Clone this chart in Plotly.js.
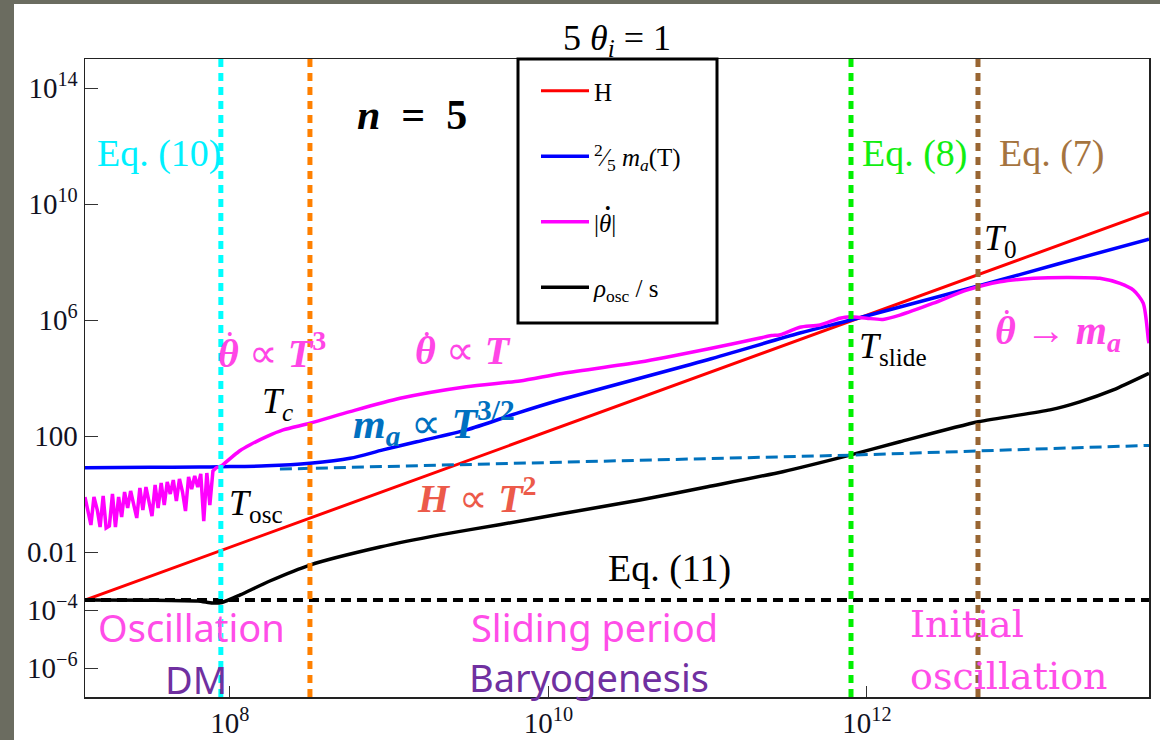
<!DOCTYPE html>
<html>
<head>
<meta charset="utf-8">
<script src="https://cdn.plot.ly/plotly-3.0.1.min.js"></script>
<style>
  html, body { margin: 0; padding: 0; background: #6b6c60; width: 1160px; height: 740px; overflow: hidden; }
  #plot { position: absolute; left: 14px; top: 4px; width: 1146px; height: 736px; background: #fff; }
</style>
</head>
<body>
<div id="plot"></div>
<script>
  // values (T in GeV)
  var hT = [1.23e7, 1e8, 1e9, 1e10, 1e11, 1e12, 1e13, 5.9e13];
  var hVal = [2.2e-4, 1.47e-2, 1.47, 147, 1.47e4, 1.47e6, 1.47e8, 5.1e9];

  var maT = [1.23e7, 3.16e7, 6.49e7, 8.77e7, 1.70e8, 3.18e8, 5.68e8, 9.14e8, 1.49e9, 3.06e9,
             6.31e9, 1.18e10, 1e11, 3.79e11, 7.94e11, 1.61e12, 4.98e12, 1.58e13, 5.9e13];
  var maVal = [8.1, 8.3, 8.5, 8.7, 9.33, 11.5, 17.0, 33.1, 63.1, 162,
               603, 1740, 4.27e4, 3.55e5, 1.0e6, 2.82e6, 1.48e7, 8.51e7, 6.17e8];

  // |theta dot| : oscillating part before T_osc
  var noiseT = [1.23e7, 1.29e7, 1.34e7, 1.40e7, 1.47e7, 1.53e7, 1.60e7, 1.67e7, 1.75e7, 1.83e7, 1.91e7,
                2.00e7, 2.09e7, 2.18e7, 2.28e7, 2.38e7, 2.49e7, 2.60e7, 2.72e7, 2.84e7, 2.97e7, 3.10e7,
                3.24e7, 3.39e7, 3.54e7, 3.70e7, 3.87e7, 4.04e7, 4.22e7, 4.41e7, 4.61e7, 4.82e7, 5.04e7,
                5.26e7, 5.50e7, 5.75e7, 6.01e7, 6.28e7, 6.56e7, 6.85e7, 7.16e7, 7.48e7, 7.82e7, 8.17e7, 8.91e7];
  var noiseVal = [0.788, 0.239, 0.0853, 0.788, 0.281, 0.0728, 0.853, 0.0673, 0.0789, 1.0, 0.0728,
                  0.788, 0.161, 1.17, 0.329, 1.27, 0.418, 0.149, 1.61, 0.281, 1.74, 0.621,
                  0.174, 2.04, 0.329, 2.39, 0.418, 2.59, 1.0, 3.04, 0.574, 3.29, 1.17,
                  0.259, 3.85, 1.49, 4.18, 1.74, 4.90, 0.117, 5.30, 0.418, 6.21, 7.88, 9.55];
  // |theta dot| : sliding and initial oscillation
  var magT = [8.91e7, 1.16e8, 1.34e8, 1.70e8, 2.16e8, 3.18e8, 5.68e8, 1.17e9, 3.06e9, 6.62e9,
              1.18e10, 3.76e10, 1e11, 2.13e11, 2.51e11, 2.82e11, 3.16e11, 3.79e11, 5.07e11, 6.76e11,
              7.82e11, 9.95e11, 1.26e12, 1.61e12, 2.61e12, 4.23e12, 6.84e12, 1.11e13, 1.79e13, 2.90e13,
              3.88e13, 4.71e13, 5.43e13, 5.85e13, 5.90e13];
  var magVal = [9.55, 31.6, 50.1, 95.5, 162, 275, 692, 2000, 5010, 7940,
                1.41e4, 3.55e4, 1.0e5, 2.40e5, 2.90e5, 3.05e5, 3.80e5, 5.60e5, 6.76e5, 1.15e6,
                1.29e6, 1.15e6, 1.05e6, 1.48e6, 3.80e6, 1.07e7, 2.09e7, 2.75e7, 2.95e7, 2.75e7,
                1.82e7, 1.07e7, 3.80e6, 2.04e5, 1.58e5];

  var rhoT = [1.23e7, 3.16e7, 6.31e7, 7.76e7, 8.91e7, 1.16e8, 1.78e8, 3.18e8, 8.75e8, 2.08e9, 5.01e9,
              1.18e10, 3.76e10, 1e11, 2.96e11, 7.82e11, 1.61e12, 5.0e12, 1.41e13, 2.17e13, 3.52e13, 5.9e13];
  var rhoVal = [2.21e-4, 2.19e-4, 2.04e-4, 1.74e-4, 1.82e-4, 3.31e-4, 1.0e-3, 3.55e-3, 1.48e-2, 3.89e-2, 8.91e-2,
                0.204, 0.617, 1.78, 5.89, 21.9, 63.1, 309, 794, 1510, 3890, 1.45e4];

  // blue dashed guide through T_slide, and the Eq. (11) level
  var slideT = [2.06e8, 7.94e11, 5.9e13];
  var slideVal = [7.24, 21.9, 47.5];
  var eq11T = [1.23e7, 5.9e13];
  var eq11Val = [2.21e-4, 2.21e-4];

  // vertical markers: Eq.(10) T_osc, T_c, Eq.(8) T_slide, Eq.(7) T_0
  var markT = [8.77e7, 3.18e8, 7.94e11, 4.98e12];
  var markColor = ["#00ffff", "#ff8000", "#00f000", "#996633"];
  var yLimits = [1e-7, 1e15];

  var yTickVals = [1e14, 1e10, 1e6, 100, 0.01, 1e-4, 1e-6];
  var yTickText = ["10<sup>14</sup>", "10<sup>10</sup>", "10<sup>6</sup>", "100", "0.01", "10<sup>\u22124</sup>", "10<sup>\u22126</sup>"];
  var xTickVals = [1e8, 1e10, 1e12];
  var xTickText = ["10<sup>8</sup>", "10<sup>10</sup>", "10<sup>12</sup>"];

  var SERIF = "Liberation Serif, Times New Roman, serif";
  var SANS = "Noto Sans, Open Sans, sans-serif";
  var SLAB = "DejaVu Serif, serif";
  var PINK = "#ff46e6";

  var data = [
    {x: hT, y: hVal, mode: "lines", name: "H", legendgroup: "a",
     line: {color: "#ff0000", width: 3}},
    {x: maT, y: maVal, mode: "lines", legendgroup: "b",
     name: "<sup>2</sup>\u2044<sub>5</sub> <i>m<sub>a</sub></i>(T)",
     line: {color: "#0000ff", width: 3.5, shape: "spline", smoothing: 0.8}},
    {x: magT, y: magVal, mode: "lines", legendgroup: "c",
     name: "|<i>\u03b8</i>|",
     line: {color: "#ff00ff", width: 3.5, shape: "spline", smoothing: 0.7}},
    {x: noiseT, y: noiseVal, mode: "lines", legendgroup: "c", showlegend: false,
     line: {color: "#ff00ff", width: 3.5}},
    {x: rhoT, y: rhoVal, mode: "lines", legendgroup: "d",
     name: "<i>\u03c1</i><sub>osc</sub> / s",
     line: {color: "#000000", width: 3.5, shape: "spline", smoothing: 0.6}},
    {x: eq11T, y: eq11Val, mode: "lines", showlegend: false,
     line: {color: "#000000", width: 4, dash: "10px,6px"}},
    {x: slideT, y: slideVal, mode: "lines", showlegend: false,
     line: {color: "#0072bd", width: 3, dash: "12px,6px"}}
  ];
  markT.forEach(function (t, i) {
    data.push({x: [t, t], y: yLimits, mode: "lines", showlegend: false,
               line: {color: markColor[i], width: 5, dash: "8px,6px"}});
  });

  // label positions measured in page pixels of the plot box (85..1149, 59..697)
  function px(X) { return (X - 85) / 1064; }
  function py(Y) { return 1 - (Y - 59) / 638; }
  function lab(X, Y, text, size, color, family, anchor) {
    return {xref: "paper", yref: "paper", x: px(X), y: py(Y), text: text, showarrow: false,
            xanchor: anchor || "center", yanchor: "middle",
            font: {family: family || SERIF, size: size, color: color}};
  }
  // the time-derivative dot over theta
  function dot(X, Y, color) { return lab(X, Y, "\u2022", 16, color); }

  var annotations = [
    lab(412, 115, "<b><i>n</i>\u2002=\u20025</b>", 42, "#000"),
    lab(95, 153, "Eq. (10)", 38, "#00f0ff", SERIF, "left"),
    lab(915, 153, "Eq. (8)", 38, "#11ee11"),
    lab(1052, 153, "Eq. (7)", 38, "#a5743f"),
    lab(1000, 240, "<i>T</i><sub>0</sub>", 36, "#000"),
    lab(893, 348, "<i>T</i><sub>slide</sub>", 36, "#000"),
    lab(216, 351, "<b><i>\u03b8</i></b> \u221d <b><i>T</i><sup>3</sup></b>", 40, PINK, SERIF, "left"),
    dot(230, 334, PINK),
    lab(413, 351, "<b><i>\u03b8</i></b> \u221d <b><i>T</i></b>", 40, PINK, SERIF, "left"),
    dot(427, 334, PINK),
    lab(993, 333, "<b><i>\u03b8</i></b> \u2192 <b><i>m<sub>a</sub></i></b>", 40, PINK, SERIF, "left"),
    dot(1007, 312, PINK),
    dot(608, 208, "#000"),
    lab(277, 403, "<i>T<sub>c</sub></i>", 36, "#000"),
    lab(434, 423, "<b><i>m<sub>a</sub></i></b> \u221d <b><i>T</i><sup>3/2</sup></b>", 42, "#0070c0"),
    lab(477, 495, "<b><i>H</i></b> \u221d <b><i>T</i><sup>2</sup></b>", 40, "#ec5a4a"),
    lab(256, 505, "<i>T</i><sub>osc</sub>", 36, "#000"),
    lab(669, 568, "Eq. (11)", 38, "#000"),
    lab(191, 627, "Oscillation", 38, "#ff4de8", SANS),
    lab(196, 679, "DM", 38, "#7030a0", SANS),
    lab(594, 627, "Sliding period", 38, "#ff4de8", SANS),
    lab(589, 677, "Baryogenesis", 38, "#7030a0", SANS),
    lab(908, 624, "Initial", 38, "#ff4de8", SLAB, "left"),
    lab(908, 676, "oscillation", 38, "#ff4de8", SLAB, "left")
  ];

  var tickFont = {family: SERIF, size: 29, color: "#111122"};
  var layout = {
    width: 1146, height: 736,
    margin: {l: 71, r: 11, t: 55, b: 43},
    paper_bgcolor: "#ffffff", plot_bgcolor: "#ffffff",
    title: {text: "5 <i>\u03b8<sub>i</sub></i> = 1", font: {family: SERIF, size: 36, color: "#000"},
            xref: "paper", x: 0.5, yref: "container", y: 1 - 33 / 736, yanchor: "middle"},
    xaxis: {type: "log", range: [7.09, 13.771], tickvals: xTickVals, ticktext: xTickText,
            ticks: "inside", ticklen: 11, tickcolor: "#333", tickwidth: 1,
            showline: true, linecolor: "#222", linewidth: 1.5, mirror: true,
            showgrid: false, zeroline: false, tickfont: tickFont},
    yaxis: {type: "log", range: [-7, 15], tickvals: yTickVals, ticktext: yTickText,
            ticks: "inside", ticklen: 13, tickcolor: "#333", tickwidth: 1,
            showline: true, linecolor: "#222", linewidth: 1.5, mirror: true,
            showgrid: false, zeroline: false, tickfont: tickFont},
    showlegend: true,
    legend: {x: px(536), y: py(68), xanchor: "left", yanchor: "top",
             bgcolor: "rgba(0,0,0,0)", borderwidth: 0,
             traceorder: "grouped", tracegroupgap: 30, itemwidth: 48,
             font: {family: SERIF, size: 25, color: "#000"}},
    shapes: [{type: "rect", xref: "paper", yref: "paper", x0: px(518), x1: px(717), y0: py(323), y1: 1,
              line: {color: "#000", width: 3}}],
    annotations: annotations
  };

  Plotly.newPlot("plot", data, layout, {displayModeBar: false, staticPlot: true});
</script>
</body>
</html>
